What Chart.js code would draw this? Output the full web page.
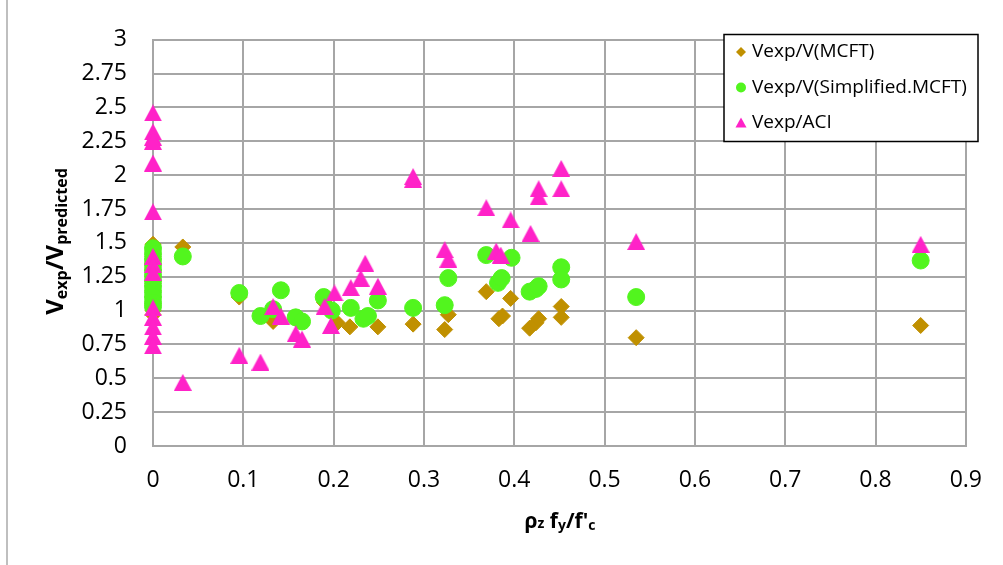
<!DOCTYPE html>
<html>
<head>
<meta charset="utf-8">
<script src="https://cdn.jsdelivr.net/npm/chart.js@4.4.0/dist/chart.umd.min.js"></script>
<style>
  html, body { margin: 0; padding: 0; background: #fff; }
  #wrap { position: relative; width: 1003px; height: 565px; }
</style>
</head>
<body>
<div id="wrap"><canvas id="chart" width="1003" height="565"></canvas></div>
<script>
// axis ticks
const xTicks = [0, 0.1, 0.2, 0.3, 0.4, 0.5, 0.6, 0.7, 0.8, 0.9];
const yTicks = [0, 0.25, 0.5, 0.75, 1, 1.25, 1.5, 1.75, 2, 2.25, 2.5, 2.75, 3];

const seriesNames = ['Vexp/V(MCFT)', 'Vexp/V(Simplified.MCFT)', 'Vexp/ACI'];

// Vexp/V(MCFT)
const mcftX = [0, 0, 0, 0, 0, 0, 0, 0, 0, 0, 0, 0,
  0.033, 0.0955, 0.133, 0.19, 0.204, 0.218, 0.249, 0.288, 0.323, 0.327,
  0.369, 0.383, 0.387, 0.396, 0.417, 0.424, 0.427, 0.452, 0.452, 0.535, 0.85];
const mcftY = [1.49, 1.44, 1.40, 1.35, 1.30, 1.25, 1.20, 1.15, 1.10, 1.05, 1.00, 0.97,
  1.47, 1.10, 0.92, 1.06, 0.91, 0.88, 0.88, 0.90, 0.86, 0.97,
  1.14, 0.94, 0.96, 1.09, 0.87, 0.91, 0.94, 1.03, 0.95, 0.80, 0.89];

// Vexp/V(Simplified.MCFT)
const simpX = [0, 0, 0, 0, 0, 0, 0, 0, 0, 0, 0, 0,
  0.033, 0.0955, 0.119, 0.133, 0.1416, 0.158, 0.165, 0.189, 0.198, 0.219,
  0.233, 0.238, 0.249, 0.288, 0.323, 0.327, 0.369, 0.382, 0.386, 0.397,
  0.417, 0.424, 0.427, 0.452, 0.452, 0.535, 0.85];
const simpY = [1.46, 1.42, 1.38, 1.34, 1.30, 1.26, 1.22, 1.18, 1.14, 1.10, 1.06, 1.03,
  1.40, 1.13, 0.96, 1.01, 1.15, 0.95, 0.92, 1.10, 1.00, 1.02,
  0.94, 0.96, 1.075, 1.02, 1.04, 1.24, 1.41, 1.205, 1.24, 1.39,
  1.14, 1.16, 1.18, 1.32, 1.23, 1.10, 1.37];

// Vexp/ACI
const aciX = [0, 0, 0, 0, 0, 0, 0, 0, 0, 0, 0, 0, 0, 0,
  0.033, 0.0955, 0.119, 0.133, 0.1416, 0.158, 0.165, 0.19, 0.197, 0.201,
  0.219, 0.230, 0.235, 0.249, 0.288, 0.288, 0.323, 0.327, 0.369, 0.380,
  0.385, 0.396, 0.418, 0.427, 0.427, 0.452, 0.452, 0.535, 0.85];
const aciY = [2.46, 2.32, 2.28, 2.25, 2.09, 1.73, 1.40, 1.34, 1.28, 1.02, 0.95, 0.88, 0.81, 0.74,
  0.47, 0.67, 0.62, 1.03, 0.96, 0.83, 0.79, 1.03, 0.89, 1.13,
  1.17, 1.24, 1.35, 1.18, 1.99, 1.97, 1.45, 1.38, 1.76, 1.44,
  1.41, 1.67, 1.57, 1.90, 1.84, 2.05, 1.90, 1.51, 1.49];

const mcftColor = '#C09000';
const simpColor = '#52F51E';
const aciColor = '#FF22C8';
const gridColor = '#A6A6A6';
const FONT = "'Open Sans', 'DejaVu Sans', sans-serif";

function toPts(xs, ys) {
  return xs.map((x, i) => ({ x: x, y: ys[i] }));
}

// triangle marker, a bit taller than the built-in one
function triangleMarker(w, h, color) {
  const c = document.createElement('canvas');
  c.width = w; c.height = h;
  const g = c.getContext('2d');
  g.fillStyle = color;
  g.beginPath();
  g.moveTo(w / 2, 0);
  g.lineTo(w, h);
  g.lineTo(0, h);
  g.closePath();
  g.fill();
  return c;
}

// draw text runs with subscripts, centred on x
function drawRuns(ctx, runs, x, y) {
  let total = 0;
  runs.forEach(r => {
    ctx.font = 'bold ' + r.size + 'px ' + FONT;
    r.w = ctx.measureText(r.t).width;
    total += r.w;
  });
  let cx = x - total / 2;
  ctx.textAlign = 'left';
  ctx.textBaseline = 'alphabetic';
  runs.forEach(r => {
    ctx.font = 'bold ' + r.size + 'px ' + FONT;
    ctx.fillText(r.t, cx, y + (r.dy || 0));
    cx += r.w;
  });
}

const extras = {
  id: 'extras',
  afterDraw(chart) {
    const ctx = chart.ctx;
    ctx.save();
    // outer frame line on the left
    ctx.fillStyle = '#BFBFBF';
    ctx.fillRect(6, 0, 2, 565);

    ctx.fillStyle = '#000';
    // x axis title
    drawRuns(ctx, [
      { t: 'ρ', size: 21 }, { t: 'z', size: 14 }, { t: ' f', size: 21 },
      { t: 'y', size: 14, dy: 2 }, { t: "/f'", size: 21 }, { t: 'c', size: 14, dy: 2 }
    ], 560, 528);

    // y axis title
    ctx.save();
    ctx.translate(63, 241.5);
    ctx.rotate(-Math.PI / 2);
    drawRuns(ctx, [
      { t: 'V', size: 24 }, { t: 'exp', size: 16, dy: 4 }, { t: '/V', size: 24 },
      { t: 'predicted', size: 16, dy: 4 }
    ], 0, 0);
    ctx.restore();

    // legend box
    ctx.fillStyle = '#fff';
    ctx.fillRect(724, 34.5, 254, 107);
    ctx.strokeStyle = '#000';
    ctx.lineWidth = 1.5;
    ctx.strokeRect(724, 34.5, 254, 107);

    const rows = [52, 87.5, 123];
    // diamond
    ctx.fillStyle = mcftColor;
    ctx.beginPath();
    ctx.moveTo(741, rows[0] - 5); ctx.lineTo(746, rows[0]);
    ctx.lineTo(741, rows[0] + 5); ctx.lineTo(736, rows[0]);
    ctx.closePath(); ctx.fill();
    // circle
    ctx.fillStyle = simpColor;
    ctx.beginPath();
    ctx.arc(741, rows[1], 5, 0, Math.PI * 2);
    ctx.fill();
    // triangle
    ctx.fillStyle = aciColor;
    ctx.beginPath();
    ctx.moveTo(741, rows[2] - 5.5); ctx.lineTo(746.5, rows[2] + 4.5);
    ctx.lineTo(735.5, rows[2] + 4.5);
    ctx.closePath(); ctx.fill();

    ctx.fillStyle = '#000';
    ctx.font = '19px ' + FONT;
    ctx.textAlign = 'left';
    ctx.textBaseline = 'middle';
    seriesNames.forEach((name, i) => ctx.fillText(name, 752, rows[i]));
    ctx.restore();
  }
};

const tickFont = { family: FONT, size: 23 };

new Chart(document.getElementById('chart'), {
  type: 'scatter',
  data: {
    datasets: [
      {
        label: seriesNames[2],
        data: toPts(aciX, aciY),
        pointStyle: triangleMarker(18, 17, aciColor),
        pointRadius: 9,
        backgroundColor: aciColor,
        borderColor: aciColor,
        clip: false
      },
      {
        label: seriesNames[1],
        data: toPts(simpX, simpY),
        pointStyle: 'circle',
        pointRadius: 8.5,
        borderWidth: 1,
        backgroundColor: simpColor,
        borderColor: simpColor,
        clip: false
      },
      {
        label: seriesNames[0],
        data: toPts(mcftX, mcftY),
        pointStyle: 'rectRot',
        pointRadius: 8,
        borderWidth: 1,
        backgroundColor: mcftColor,
        borderColor: mcftColor,
        clip: false
      }
    ]
  },
  options: {
    responsive: false,
    animation: false,
    events: [],
    layout: { padding: { top: 37, right: 37, left: 0, bottom: 0 } },
    plugins: { legend: { display: false }, tooltip: { enabled: false } },
    scales: {
      x: {
        type: 'linear',
        min: 0,
        max: 0.9,
        afterBuildTicks: s => { s.ticks = xTicks.map(v => ({ value: v })); },
        afterFit: s => { s.height = 119; },
        grid: { color: gridColor, lineWidth: 2, drawTicks: false },
        border: { color: gridColor, width: 2 },
        ticks: {
          padding: 21, font: tickFont, color: '#000',
          maxRotation: 0, autoSkip: false, callback: v => String(v)
        }
      },
      y: {
        type: 'linear',
        min: 0,
        max: 3,
        afterBuildTicks: s => { s.ticks = yTicks.map(v => ({ value: v })); },
        afterFit: s => { s.width = 153; },
        grid: { color: gridColor, lineWidth: 2, drawTicks: false },
        border: { color: gridColor, width: 2 },
        ticks: {
          padding: 26, font: tickFont, color: '#000',
          autoSkip: false, callback: v => String(v)
        }
      }
    }
  },
  plugins: [extras]
});
</script>
</body>
</html>
